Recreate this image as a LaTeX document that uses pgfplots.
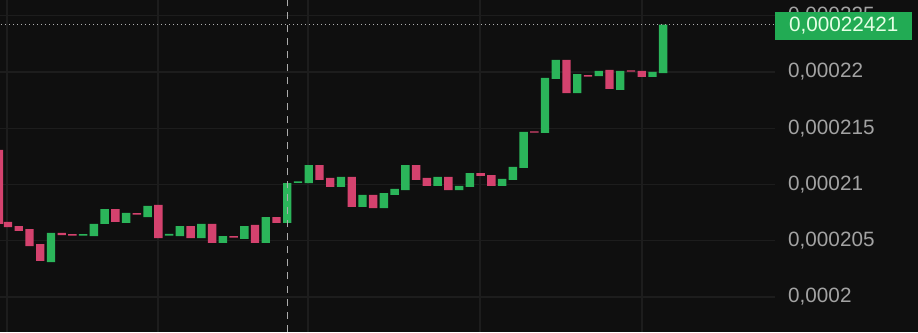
\documentclass[border=0pt]{standalone}
\usepackage{pgfplots}
\pgfplotsset{compat=1.18}
\usepackage{pgfplotstable}
\usepackage{fontspec}
\setmainfont{Liberation Sans}
\definecolor{bg}{HTML}{0F0F0F}
\definecolor{gridc}{HTML}{1D1D1D}
\definecolor{cgreen}{HTML}{2BB55A}
\definecolor{cred}{HTML}{D4426E}
\definecolor{lblc}{HTML}{A3A3A3}
\definecolor{boxg}{HTML}{22AB54}

% c = 1 rising (green), c = 0 falling (red)
\pgfplotstableread{
x lo hi c
-0.85 206.49 213.07 0
0 206.22 206.67 0
1 205.87 206.31 0
2 204.53 206.04 0
3 203.20 204.71 0
4 203.11 205.69 1
5 205.51 205.69 0
6 205.45 205.58 0
7 205.45 205.58 1
8 205.42 206.49 1
9 206.49 207.82 1
10 206.67 207.82 0
11 206.58 207.47 1
12 207.32 207.45 0
13 207.11 208.09 1
14 205.24 208.18 0
15 205.45 205.60 1
16 205.42 206.31 1
17 205.24 206.31 0
18 205.24 206.49 1
19 204.80 206.49 0
20 204.80 205.42 1
21 205.27 205.40 0
22 205.16 206.31 1
23 204.80 206.40 0
24 204.80 207.11 1
25 206.58 207.11 0
26 206.58 210.13 1
27 210.15 210.28 1
28 210.13 211.73 1
29 210.40 211.73 0
30 209.78 210.58 0
31 209.78 210.67 1
32 208.00 210.67 0
33 208.00 209.07 1
34 207.91 209.07 0
35 207.91 209.24 1
36 209.07 209.60 1
37 209.51 211.73 1
38 210.40 211.73 0
39 209.87 210.58 0
40 209.87 210.67 1
41 209.51 210.67 0
42 209.51 209.87 1
43 209.78 211.02 1
44 210.76 211.02 0
45 209.87 210.84 0
46 209.87 210.49 1
47 210.40 211.56 1
48 211.47 214.67 1
49 214.60 214.73 0
50 214.58 219.47 1
51 219.38 221.07 1
52 218.13 221.07 0
53 218.13 219.82 1
54 219.58 219.72 0
55 219.64 220.09 1
56 218.49 220.18 0
57 218.40 220.09 1
58 220.03 220.15 0
59 219.56 220.09 0
60 219.56 220.00 1
61 219.91 224.21 1
}\candles

\begin{document}
\begin{tikzpicture}[x=1pt,y=1pt]
\fill[bg] (0,0) rectangle (918,332);
\useasboundingbox (0,0) rectangle (918,332);
\begin{axis}[
  at={(0pt,0pt)}, anchor=south west,
  scale only axis, width=775pt, height=332pt,
  xmin=-0.745, xmax=71.41,
  ymin=196.889, ymax=226.4,
  axis line style={draw=none},
  major tick length=0pt,
  xtick={-0.09,13.97,27.93,43.95,59.03},
  xticklabels={},
  ytick={200,205,210,215,220,225},
  yticklabels={{0,0002},{0,000205},{0,00021},{0,000215},{0,00022},{0,000225}},
  yticklabel pos=right,
  yticklabel style={anchor=west, inner sep=0pt, xshift=13pt, text=lblc, font=\fontsize{20.7}{21}\selectfont},
  grid=major,
  major grid style={draw=gridc, line width=1.3pt},
  clip=true,
  ybar stacked, bar width=8.4pt, bar shift=0pt,
]
\draw[draw=lblc!85, line width=1.2pt, dash pattern=on 1.2pt off 2.8pt] (axis cs:-1,224.21) -- (axis cs:72,224.21);
\draw[draw=lblc!90, line width=1.3pt, dash pattern=on 7pt off 6pt] (axis cs:26,190) -- (axis cs:26,230);
\addplot[draw=none, fill=none] table[x=x, y=lo] {\candles};
\addplot[draw=none, fill=cgreen] table[x=x, y expr=\thisrow{c}*(\thisrow{hi}-\thisrow{lo})] {\candles};
\addplot[draw=none, fill=cred] table[x=x, y expr=(1-\thisrow{c})*(\thisrow{hi}-\thisrow{lo})] {\candles};
\end{axis}
\node[fill=boxg, text=white!90!green, minimum width=137pt, minimum height=28pt, inner sep=0pt, anchor=west,
  font=\fontsize{20.7}{21}\selectfont] at (775,306) {0,00022421};
\end{tikzpicture}
\end{document}
